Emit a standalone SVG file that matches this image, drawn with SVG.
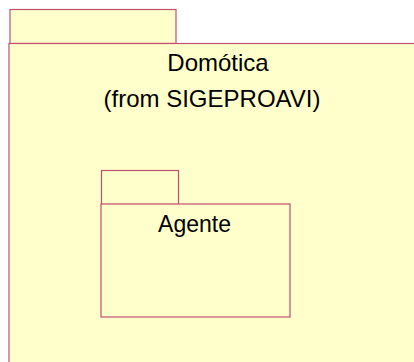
<svg xmlns="http://www.w3.org/2000/svg" width="414" height="362" viewBox="0 0 414 362">
<style>
.pk{fill:#FFFFCC;stroke:#C0506E;stroke-width:1.2}
.t{font-family:"Liberation Sans",Arial,sans-serif;font-size:24px;fill:#000;text-anchor:middle}
</style>
<rect width="414" height="362" fill="#fff"/>
<g id="domotica">
<rect class="pk" x="10" y="9.5" width="166" height="34"/>
<rect class="pk" x="9" y="43.5" width="420" height="330"/>
<text class="t" x="218" y="71">Domótica</text>
<text class="t" x="212" y="107">(from SIGEPROAVI)</text>
</g>
<g id="agente">
<rect class="pk" x="101.5" y="170.5" width="77" height="34"/>
<rect class="pk" x="101" y="204" width="189" height="113"/>
<text class="t" x="194.5" y="231.5" style="font-size:23px">Agente</text>
</g>
<g id="connectors"/>
</svg>
